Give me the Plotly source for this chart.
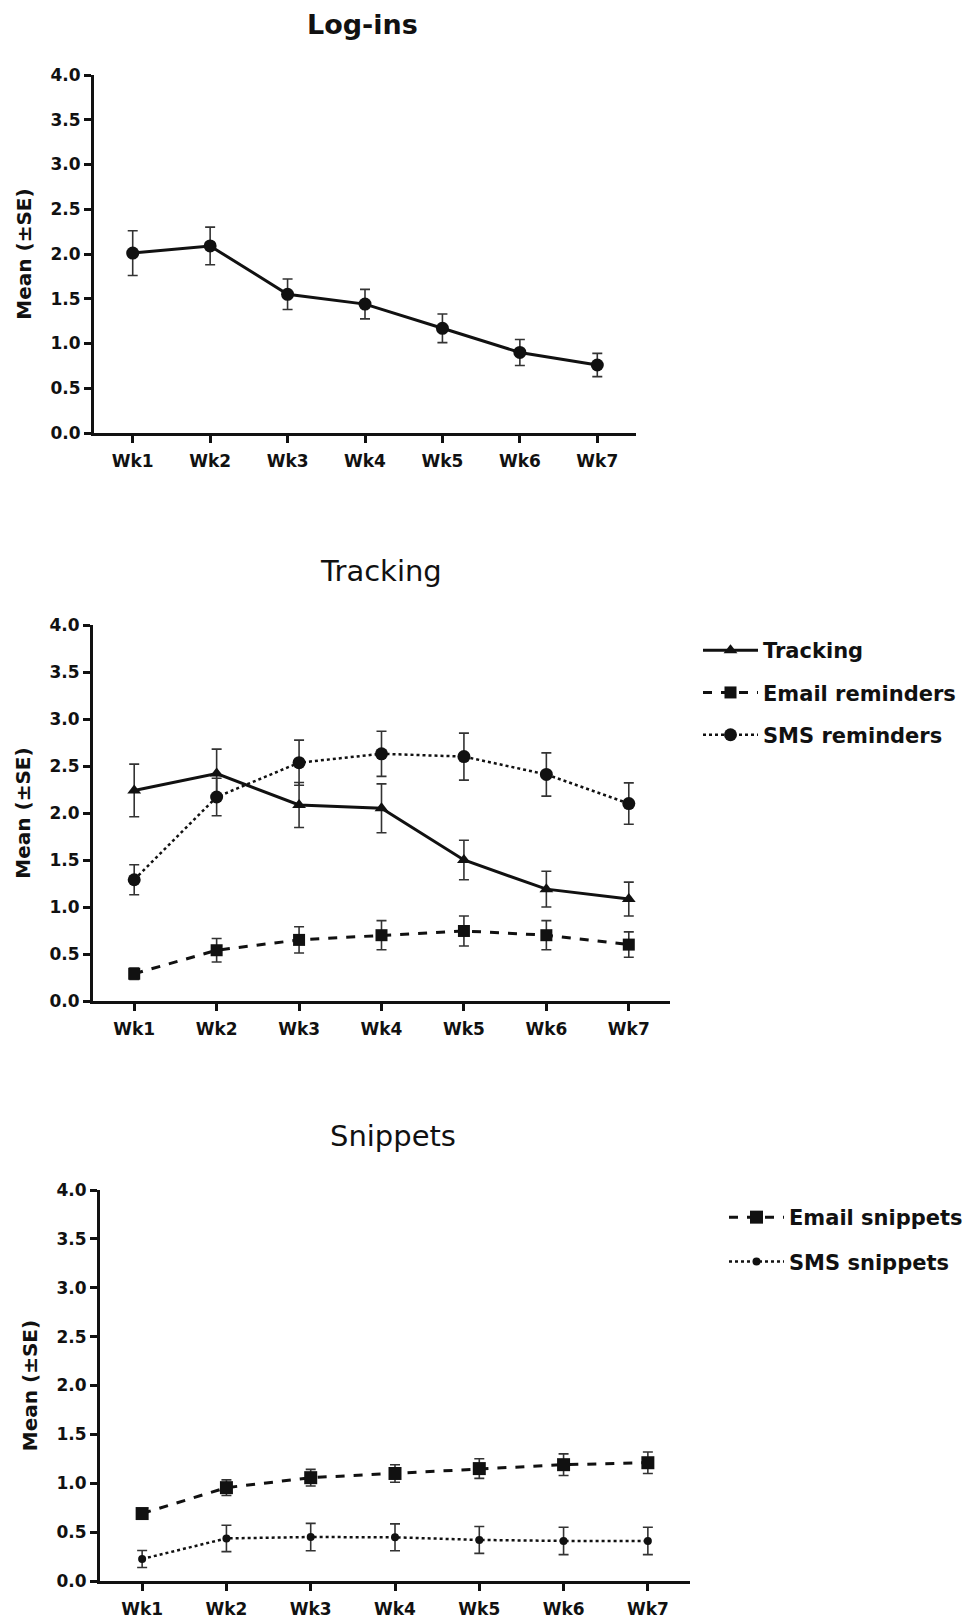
import plotly.graph_objects as go

weeks = ["Wk1", "Wk2", "Wk3", "Wk4", "Wk5", "Wk6", "Wk7"]

login_mean = [2.01, 2.09, 1.55, 1.44, 1.17, 0.90, 0.76]
login_se = [0.25, 0.21, 0.17, 0.165, 0.16, 0.145, 0.13]

tracking_mean = [2.24, 2.42, 2.085, 2.05, 1.50, 1.19, 1.085]
tracking_se = [0.28, 0.26, 0.24, 0.26, 0.21, 0.19, 0.18]

email_rem_mean = [0.29, 0.54, 0.65, 0.70, 0.745, 0.70, 0.60]
email_rem_se = [0.06, 0.125, 0.14, 0.155, 0.16, 0.155, 0.135]

sms_rem_mean = [1.29, 2.17, 2.535, 2.63, 2.60, 2.41, 2.10]
sms_rem_se = [0.16, 0.20, 0.24, 0.24, 0.25, 0.23, 0.22]

email_snip_mean = [0.69, 0.955, 1.057, 1.10, 1.15, 1.19, 1.21]
email_snip_se = [0.05, 0.08, 0.085, 0.09, 0.10, 0.11, 0.11]

sms_snip_mean = [0.225, 0.436, 0.45, 0.447, 0.42, 0.41, 0.41]
sms_snip_se = [0.087, 0.135, 0.14, 0.137, 0.137, 0.14, 0.14]

y_ticks = [0.0, 0.5, 1.0, 1.5, 2.0, 2.5, 3.0, 3.5, 4.0]

W, H = 974, 1622
OFF = 8  # page body margin
FONT = "DejaVu Sans, Liberation Sans, Arial, sans-serif"
INK = "#111111"


def px_x(p):
    return (p - OFF) / W


def px_y(p):
    return 1 - (p - OFF) / H


fig = go.Figure()


def err(se):
    return dict(type="data", array=se, visible=True, color="#333333",
                thickness=1.6, width=5)


# Panel 1 - Log-ins
fig.add_trace(go.Scatter(
    x=weeks, y=login_mean, error_y=err(login_se), mode="lines+markers",
    line=dict(color=INK, width=3), marker=dict(symbol="circle", size=13, color=INK),
    xaxis="x", yaxis="y", showlegend=False, name="Log-ins"))

# Panel 2 - Tracking
fig.add_trace(go.Scatter(
    x=weeks, y=tracking_mean, error_y=err(tracking_se), mode="lines+markers",
    line=dict(color=INK, width=3), marker=dict(symbol="triangle-up", size=12, color=INK),
    xaxis="x2", yaxis="y2", name="Tracking", legend="legend", legendgroup="a"))
fig.add_trace(go.Scatter(
    x=weeks, y=email_rem_mean, error_y=err(email_rem_se), mode="lines+markers",
    line=dict(color=INK, width=3, dash="dash"), marker=dict(symbol="square", size=12, color=INK),
    xaxis="x2", yaxis="y2", name="Email reminders", legend="legend", legendgroup="b"))
fig.add_trace(go.Scatter(
    x=weeks, y=sms_rem_mean, error_y=err(sms_rem_se), mode="lines+markers",
    line=dict(color=INK, width=2.5, dash="dot"), marker=dict(symbol="circle", size=13, color=INK),
    xaxis="x2", yaxis="y2", name="SMS reminders", legend="legend", legendgroup="c"))

# Panel 3 - Snippets
fig.add_trace(go.Scatter(
    x=weeks, y=email_snip_mean, error_y=err(email_snip_se), mode="lines+markers",
    line=dict(color=INK, width=3, dash="dash"), marker=dict(symbol="square", size=13, color=INK),
    xaxis="x3", yaxis="y3", name="Email snippets", legend="legend2", legendgroup="d"))
fig.add_trace(go.Scatter(
    x=weeks, y=sms_snip_mean, error_y=err(sms_snip_se), mode="lines+markers",
    line=dict(color=INK, width=2.5, dash="dot"), marker=dict(symbol="circle", size=8, color=INK),
    xaxis="x3", yaxis="y3", name="SMS snippets", legend="legend2", legendgroup="e"))

tickfont = dict(family=FONT, size=17, color=INK, weight="bold")


def xaxis(domain, anchor):
    return dict(domain=domain, anchor=anchor, type="category", range=[-0.5, 6.5],
                showline=True, linecolor=INK, linewidth=3, ticks="outside",
                ticklen=7, tickwidth=2.5, tickcolor=INK, showgrid=False,
                ticklabelstandoff=4,
                zeroline=False, tickfont=tickfont, automargin=False, fixedrange=True)


def yaxis(domain, anchor):
    return dict(domain=domain, anchor=anchor, range=[0, 4], tickvals=y_ticks,
                ticktext=[f"{v:.1f}" for v in y_ticks],
                showline=True, linecolor=INK, linewidth=3, ticks="outside",
                ticklen=7, tickwidth=2.5, tickcolor=INK, showgrid=False,
                zeroline=False, tickfont=tickfont, automargin=False, fixedrange=True,
                title=dict(text="Mean (±SE)", font=dict(family=FONT, size=20, color=INK, weight="bold"),
                           standoff=14))


legend_font = dict(family=FONT, size=21, color=INK, weight="bold")

fig.update_layout(
    width=W, height=H, margin=dict(l=0, r=0, t=0, b=0, autoexpand=False),
    paper_bgcolor="white", plot_bgcolor="white",
    font=dict(family=FONT, color=INK),
    xaxis=xaxis([px_x(94), px_x(636)], "y"),
    yaxis=yaxis([px_y(433), px_y(75)], "x"),
    xaxis2=xaxis([px_x(93), px_x(670)], "y2"),
    yaxis2=yaxis([px_y(1001), px_y(625)], "x2"),
    xaxis3=xaxis([px_x(100), px_x(690)], "y3"),
    yaxis3=yaxis([px_y(1581), px_y(1190)], "x3"),
    legend=dict(x=px_x(698), y=px_y(630), xanchor="left", yanchor="top",
                font=legend_font, traceorder="grouped", tracegroupgap=12,
                bgcolor="rgba(0,0,0,0)", itemwidth=55),
    legend2=dict(x=px_x(724), y=px_y(1197), xanchor="left", yanchor="top",
                 font=legend_font, traceorder="grouped", tracegroupgap=14,
                 bgcolor="rgba(0,0,0,0)", itemwidth=55),
    annotations=[
        dict(text="<b>Log-ins</b>", x=px_x(362), y=px_y(24), xref="paper", yref="paper",
             xanchor="center", yanchor="middle",
             showarrow=False, font=dict(family=FONT, size=27, color=INK)),
        dict(text="Tracking", x=px_x(381), y=px_y(571), xref="paper", yref="paper",
             xanchor="center", yanchor="middle",
             showarrow=False, font=dict(family=FONT, size=29, color=INK)),
        dict(text="Snippets", x=px_x(393), y=px_y(1136), xref="paper", yref="paper",
             xanchor="center", yanchor="middle",
             showarrow=False, font=dict(family=FONT, size=29, color=INK)),
    ],
)

fig.write_html("out.html")
